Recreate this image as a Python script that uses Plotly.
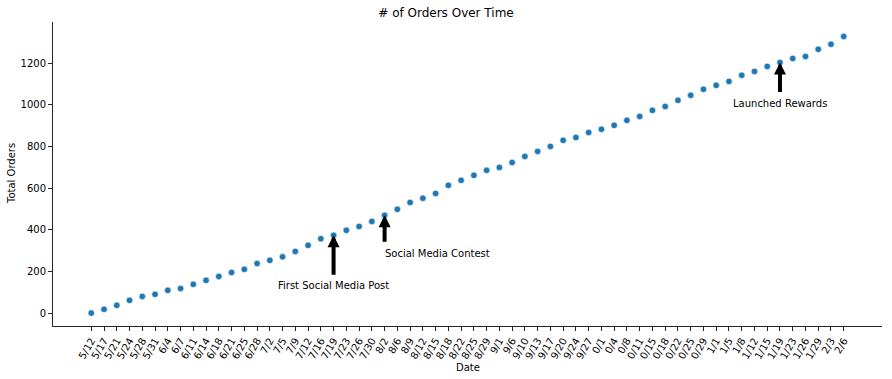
import plotly.graph_objects as go

dates = ["5/12", "5/17", "5/21", "5/24", "5/28", "5/31", "6/4", "6/7", "6/11", "6/14",
         "6/18", "6/21", "6/25", "6/28", "7/2", "7/5", "7/9", "7/12", "7/16", "7/19",
         "7/23", "7/26", "7/30", "8/2", "8/6", "8/9", "8/12", "8/15", "8/18", "8/22",
         "8/25", "8/29", "9/1", "9/6", "9/10", "9/13", "9/17", "9/20", "9/24", "9/27",
         "0/1", "0/4", "0/8", "0/11", "0/15", "0/18", "0/22", "0/25", "0/29", "1/1",
         "1/5", "1/8", "1/12", "1/15", "1/19", "1/23", "1/26", "1/29", "2/3", "2/6"]

total_orders = [0, 18, 37, 61, 80, 90, 109, 118, 138, 157,
                176, 195, 210, 238, 253, 270, 296, 325, 357, 373,
                397, 416, 440, 469, 498, 531, 551, 574, 613, 637,
                661, 685, 699, 723, 752, 776, 800, 829, 843, 867,
                882, 901, 925, 944, 973, 992, 1021, 1045, 1074, 1093,
                1112, 1141, 1160, 1184, 1203, 1222, 1232, 1266, 1290, 1328]

events = ["First Social Media Post", "Social Media Contest", "Launched Rewards"]
event_dates = ["7/19", "8/2", "1/19"]

FONT = "DejaVu Sans"
AX = "#262626"

fig = go.Figure()
fig.add_trace(go.Scatter(
    x=dates, y=total_orders, mode="markers",
    marker=dict(color="#1f77b4", size=6.5, line=dict(color="white", width=0.6)),
    showlegend=False, hoverinfo="skip",
))

# event annotations
arrow_len = [41, 28, 31]
text_shift = [-50, -38, -41]
text_anchor = ["center", "left", "center"]
x_shift = [0, -2, 0]
for name, d, al, ts, xa, xs in zip(events, event_dates, arrow_len, text_shift, text_anchor, x_shift):
    yv = total_orders[dates.index(d)]
    fig.add_annotation(x=d, y=yv, text="", showarrow=True, ax=0, ay=al,
                       arrowhead=2, arrowsize=0.6, arrowwidth=4, arrowcolor="black",
                       standoff=0)
    fig.add_annotation(x=d, y=yv, text=name, showarrow=False, xanchor=xa,
                       yanchor="middle", yshift=ts, xshift=xs,
                       font=dict(family=FONT, size=10, color="black"))

# axis titles as annotations
fig.add_annotation(xref="paper", yref="paper", x=0.5, y=-0.135, yanchor="middle",
                   text="Date", showarrow=False,
                   font=dict(family=FONT, size=10, color="black"))
fig.add_annotation(xref="paper", yref="paper", x=0, xshift=-42, y=0.5,
                   xanchor="center", text="Total Orders", showarrow=False,
                   textangle=-90, font=dict(family=FONT, size=10, color="black"))

fig.update_layout(
    width=892, height=379,
    margin=dict(l=53, r=10, t=22, b=53),
    paper_bgcolor="white", plot_bgcolor="white",
    font=dict(family=FONT, size=10, color="black"),
    title=dict(text="# of Orders Over Time", x=0.5, xanchor="center",
               y=0.965, yanchor="middle",
               font=dict(family=FONT, size=12, color="black")),
    xaxis=dict(
        type="category", range=[-3, 62], showgrid=False, zeroline=False,
        showline=True, linecolor=AX, linewidth=1,
        ticks="outside", ticklen=4, tickcolor=AX, tickwidth=1,
        tickangle=-60, tickfont=dict(family=FONT, size=10, color="black"),
        automargin=False,
    ),
    yaxis=dict(
        range=[-62, 1397], showgrid=False, zeroline=False,
        showline=True, linecolor=AX, linewidth=1,
        ticks="outside", ticklen=4, tickcolor=AX, tickwidth=1,
        tickvals=[0, 200, 400, 600, 800, 1000, 1200],
        tickfont=dict(family=FONT, size=10, color="black"),
        automargin=False,
    ),
)

fig.write_html("out.html", config={"displayModeBar": False},
               post_script="document.body.style.margin='0';document.body.style.overflow='hidden';")
